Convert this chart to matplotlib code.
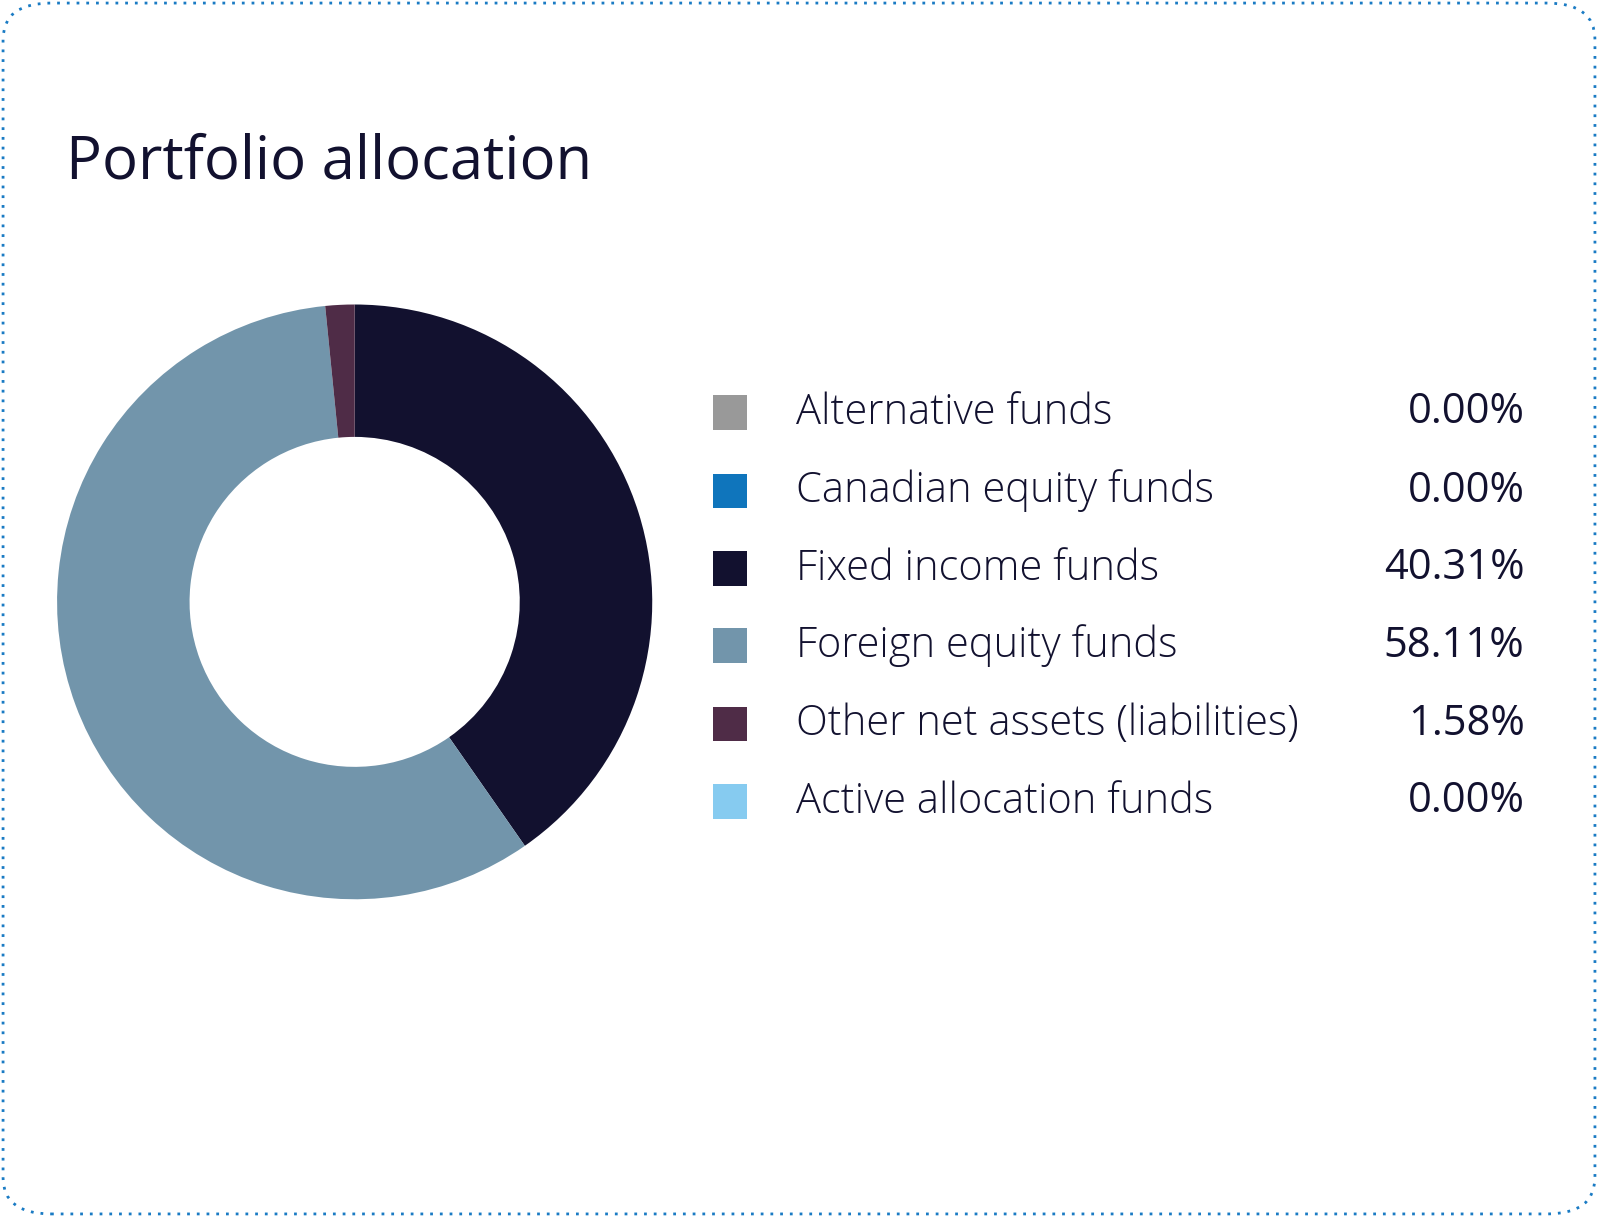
import matplotlib
matplotlib.use("Agg")
import matplotlib.pyplot as plt
from matplotlib.patches import FancyBboxPatch, Rectangle

categories = ["Alternative funds", "Canadian equity funds", "Fixed income funds",
              "Foreign equity funds", "Other net assets (liabilities)", "Active allocation funds"]
values = [0.00, 0.00, 40.31, 58.11, 1.58, 0.00]
labels = ["0.00%", "0.00%", "40.31%", "58.11%", "1.58%", "0.00%"]
colors = ["#999999", "#0f75bc", "#12112f", "#7295ab", "#4f2c47", "#86cbf0"]

W, H = 1568, 1195
fig = plt.figure(figsize=(15.98, 12.17), dpi=100)
fam = ["Open Sans", "DejaVu Sans"]

border = FancyBboxPatch((3/W, 3/H), 1 - 6/W, 1 - 6/H, boxstyle="round,pad=0,rounding_size=0.03",
                        transform=fig.transFigure, fill=False, edgecolor="#1a7bc4",
                        linestyle=(0, (1, 2.5)), linewidth=2)
fig.patches.append(border)

fig.text(65/W, 1 - 160/H, "Portfolio allocation", fontsize=43, color="#12112f",
         family=fam, va="center", ha="left")

cx, cy, r = 348, 591, 292
ax = fig.add_axes([(cx - r)/W, 1 - (cy + r)/H, 2*r/W, 2*r/H])
ax.pie(values, colors=colors, startangle=90, counterclock=False,
       wedgeprops=dict(width=1 - 162/292, linewidth=0))
ax.set_aspect("auto")
ax.set_xlim(-1, 1); ax.set_ylim(-1, 1)
ax.axis("off")

rows = [405, 482, 558, 634, 711, 787]
for y, cat, lab, col in zip(rows, categories, labels, colors):
    fig.patches.append(Rectangle((700/W, 1 - (y + 17)/H), 33/W, 34/H,
                                 transform=fig.transFigure, facecolor=col, edgecolor="none"))
    fig.text(781/W, 1 - y/H, cat, fontsize=30, color="#12112f", family=fam,
             fontweight="light", va="center", ha="left")
    fig.text(1496/W, 1 - y/H, lab, fontsize=30, color="#12112f", family=fam,
             va="center", ha="right")

fig.savefig("out.png", dpi=100, facecolor="white")
